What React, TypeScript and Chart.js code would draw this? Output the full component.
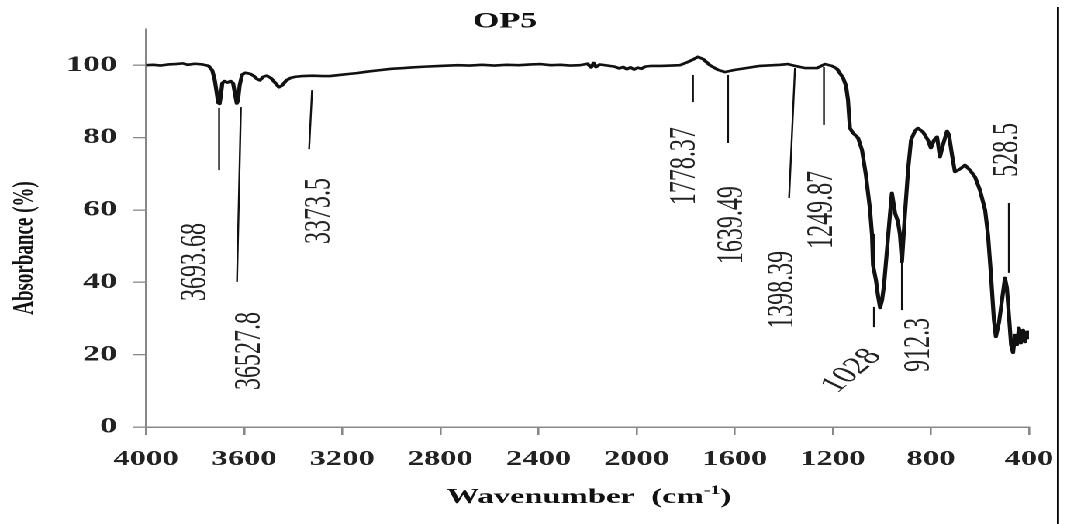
import React, { useEffect, useRef } from 'react';
import { Chart, registerables } from 'chart.js';

Chart.register(...registerables);

// ---------- data ----------
const wavenumbers: number[] = [
  4000, 3970, 3940, 3910, 3880, 3850, 3830, 3800, 3770, 3745, 3730, 3720, 3712, 3706, 3700, 3695, 3689, 3680, 3668, 3655,
  3645, 3637, 3630, 3625, 3618, 3608, 3595, 3575, 3560, 3548, 3536, 3522, 3508, 3490, 3472, 3458, 3445, 3428, 3410, 3390,
  3363, 3320, 3280, 3250, 3210, 3170, 3140, 3100, 3050, 3000, 2950, 2910, 2860, 2800, 2730, 2680, 2630, 2580, 2530, 2480,
  2430, 2390, 2350, 2310, 2270, 2230, 2200, 2185, 2175, 2165, 2150, 2120, 2090, 2070, 2055, 2040, 2025, 2010, 1995, 1980,
  1965, 1940, 1900, 1860, 1823, 1790, 1766, 1750, 1729, 1701, 1668, 1639, 1599, 1497, 1415, 1383, 1354, 1313, 1264, 1232,
  1203, 1183, 1158, 1146, 1138, 1130, 1118, 1097, 1081, 1065, 1048, 1040, 1036, 1024, 1016, 1007, 999, 991, 979, 967,
  959, 946, 934, 926, 918, 906, 893, 881, 865, 853, 832, 812, 800, 787, 775, 763, 751, 734, 726, 714,
  702, 681, 661, 641, 620, 600, 579, 567, 555, 543, 535, 522, 510, 498, 490, 482, 473, 465, 457, 449,
  441, 433, 424, 416, 408, 404,
];
const absorbance: number[] = [
  100.0, 100.1, 99.9, 100.2, 100.3, 100.5, 100.1, 100.4, 100.2, 99.8, 98.6, 96.0, 92.5, 89.6, 89.3, 91.5, 95.0, 95.6, 95.2, 95.6,
  95.0, 92.0, 89.4, 90.2, 94.5, 97.4, 97.9, 97.6, 97.0, 96.2, 95.8, 96.8, 97.1, 96.4, 95.0, 93.9, 94.4, 95.8, 96.5, 96.8,
  97.0, 97.1, 97.0, 97.0, 97.3, 97.6, 97.8, 98.2, 98.6, 99.0, 99.2, 99.4, 99.6, 99.8, 100.0, 99.9, 100.1, 99.9, 100.1, 100.0,
  100.2, 100.3, 100.0, 100.1, 99.9, 100.0, 100.4, 99.4, 100.6, 99.5, 100.2, 99.9, 99.6, 99.1, 99.5, 98.9, 99.4, 98.8, 99.3, 99.0,
  99.6, 99.8, 99.8, 99.9, 100.0, 100.9, 101.7, 102.3, 101.7, 100.0, 98.7, 98.1, 98.7, 99.8, 100.1, 100.3, 99.8, 99.2, 99.2, 100.3,
  99.8, 99.0, 96.5, 94.3, 90.4, 82.6, 81.3, 79.9, 76.6, 69.7, 60.0, 53.1, 44.8, 40.6, 36.5, 32.9, 35.1, 39.2, 48.9, 58.6,
  64.7, 59.1, 56.7, 53.1, 45.6, 58.6, 71.0, 79.3, 81.8, 82.6, 81.5, 79.3, 77.1, 79.3, 80.2, 74.6, 77.9, 81.8, 80.7, 75.2,
  70.5, 71.3, 72.4, 71.0, 69.1, 65.5, 60.0, 53.1, 42.0, 29.6, 24.9, 29.0, 35.1, 41.2, 38.4, 31.0, 22.7, 20.5, 25.4, 22.7,
  27.4, 23.2, 26.8, 23.5, 26.3, 24.6,
];
const xTickValues: number[] = [4000, 3600, 3200, 2800, 2400, 2000, 1600, 1200, 800, 400];
const yTickValues: number[] = [0, 20, 40, 60, 80, 100];

const peakLabels: string[] = ['3693.68', '36527.8', '3373.5', '1778.37', '1639.49', '1398.39', '1249.87', '1028', '912.3', '528.5'];
// leader lines in data units: [x1, y1] -> [x2, y2]
const peakLineX1: number[] = [3702, 3613, 3323, 1770, 1627, 1354, 1236, 1032, 918, 482];
const peakLineY1: number[] = [88.2, 88.4, 93.1, 97.3, 97.3, 99.2, 99.5, 33.2, 46.2, 61.9];
const peakLineX2: number[] = [3702, 3629, 3335, 1770, 1627, 1378, 1236, 1032, 918, 482];
const peakLineY2: number[] = [71.0, 40.1, 76.8, 89.8, 78.5, 63.3, 83.5, 27.6, 32.3, 42.6];
// label centres in data units and text angle (degrees)
const peakLabelX: number[] = [3796, 3576, 3291, 1802, 1611, 1403, 1244, 1122, 849, 486];
const peakLabelY: number[] = [45.6, 21.0, 59.7, 72.1, 55.8, 37.9, 60.0, 15.5, 22.7, 76.6];
const peakLabelAngle: number[] = [-90, -90, -90, -90, -90, -90, -90, -52, -90, -90];

// ---------- layout ----------
const STRETCH = 1067 / 688; // the reference picture is stretched horizontally
const CW = 688;
const CH = 524;
const SERIF = "'Liberation Serif', 'Times New Roman', serif";

const overlayPlugin = {
  id: 'overlay',
  afterDraw(chart: any) {
    const ctx = chart.ctx as CanvasRenderingContext2D;
    const xs = chart.scales.x;
    const ys = chart.scales.y;
    ctx.save();

    // leader lines
    ctx.strokeStyle = '#111';
    ctx.lineWidth = 1.2;
    for (let i = 0; i < peakLabels.length; i++) {
      ctx.beginPath();
      ctx.moveTo(xs.getPixelForValue(peakLineX1[i]), ys.getPixelForValue(peakLineY1[i]));
      ctx.lineTo(xs.getPixelForValue(peakLineX2[i]), ys.getPixelForValue(peakLineY2[i]));
      ctx.stroke();
    }
    // peak labels
    ctx.fillStyle = '#222';
    ctx.font = '24px ' + SERIF;
    ctx.textAlign = 'center';
    ctx.textBaseline = 'middle';
    for (let i = 0; i < peakLabels.length; i++) {
      ctx.save();
      ctx.translate(xs.getPixelForValue(peakLabelX[i]), ys.getPixelForValue(peakLabelY[i]));
      ctx.rotate((peakLabelAngle[i] * Math.PI) / 180);
      ctx.fillText(peakLabels[i], 0, 0);
      ctx.restore();
    }

    // title
    ctx.fillStyle = '#111';
    ctx.font = 'bold 22px ' + SERIF;
    ctx.fillText('OP5', 505 / STRETCH, 22);

    // y axis title
    ctx.save();
    ctx.translate(25 / STRETCH, 248);
    ctx.rotate(-Math.PI / 2);
    ctx.font = 'bold 19px ' + SERIF;
    ctx.fillText('Absorbance (%)', 0, 0);
    ctx.restore();

    // x axis title with superscript
    const a = 'Wavenumber  (cm';
    const sup = '-1';
    const b = ')';
    ctx.textAlign = 'left';
    ctx.textBaseline = 'alphabetic';
    ctx.font = 'bold 21px ' + SERIF;
    const wA = ctx.measureText(a).width;
    const wB = ctx.measureText(b).width;
    ctx.font = 'bold 13px ' + SERIF;
    const wS = ctx.measureText(sup).width;
    const total = wA + wS + wB;
    const cx = 589 / STRETCH;
    const base = 503;
    const sx = cx - total / 2;
    ctx.font = 'bold 21px ' + SERIF;
    ctx.fillText(a, sx, base);
    ctx.font = 'bold 13px ' + SERIF;
    ctx.fillText(sup, sx + wA, base - 9);
    ctx.font = 'bold 21px ' + SERIF;
    ctx.fillText(b, sx + wA + wS, base);

    // right frame line of the figure
    ctx.strokeStyle = '#000';
    ctx.lineWidth = 1.4;
    ctx.beginPath();
    ctx.moveTo(1058 / STRETCH, 7);
    ctx.lineTo(1058 / STRETCH, CH);
    ctx.stroke();

    ctx.restore();
  },
};

export default function App() {
  const canvasRef = useRef<HTMLCanvasElement | null>(null);

  useEffect(() => {
    const canvas = canvasRef.current;
    if (!canvas) return;
    const points = wavenumbers.map((w, i) => ({ x: w, y: absorbance[i] }));
    const left = 146 / STRETCH;
    const right = 1029 / STRETCH;
    const chart = new Chart(canvas, {
      type: 'scatter',
      data: {
        datasets: [
          {
            data: points,
            showLine: true,
            borderColor: '#111',
            borderWidth: 2.6,
            borderJoinStyle: 'round',
            pointRadius: 0,
            tension: 0,
            fill: false,
          },
        ],
      },
      options: {
        animation: false,
        responsive: false,
        devicePixelRatio: 2,
        layout: { padding: { left: 0, right: CW - right, top: 29, bottom: 0 } },
        plugins: { legend: { display: false }, tooltip: { enabled: false }, title: { display: false } },
        scales: {
          x: {
            type: 'linear',
            reverse: true,
            min: 400,
            max: 4000,
            afterBuildTicks: (scale: any) => {
              scale.ticks = xTickValues.map((v) => ({ value: v }));
            },
            afterFit: (scale: any) => {
              scale.height = CH - 427;
              scale.paddingLeft = 0;
              scale.paddingRight = 0;
            },
            ticks: {
              stepSize: 400,
              maxRotation: 0,
              autoSkip: false,
              padding: 12,
              color: '#222',
              font: { family: SERIF, size: 21, weight: 'bold' },
              callback: (v: any) => String(v),
            },
            grid: { drawOnChartArea: false, drawTicks: true, tickLength: 8, color: '#888', lineWidth: 1.3 },
            border: { display: true, color: '#888', width: 1.5 },
          },
          y: {
            type: 'linear',
            min: 0,
            max: 110,
            afterBuildTicks: (scale: any) => {
              scale.ticks = yTickValues.map((v) => ({ value: v }));
            },
            afterFit: (scale: any) => {
              scale.width = left;
              scale.paddingTop = 0;
              scale.paddingBottom = 0;
            },
            ticks: {
              stepSize: 20,
              includeBounds: false,
              padding: 10.4,
              color: '#222',
              font: { family: SERIF, size: 22, weight: 'bold' },
              callback: (v: any) => String(v),
            },
            grid: { drawOnChartArea: false, drawTicks: true, tickLength: 8.3, color: '#888', lineWidth: 1.3 },
            border: { display: true, color: '#888', width: 1.4 },
          },
        },
      },
      plugins: [overlayPlugin],
    } as any);
    return () => chart.destroy();
  }, []);

  return (
    <div
      style={{
        position: 'absolute',
        left: 0,
        top: 0,
        width: CW + 'px',
        height: CH + 'px',
        transform: `scaleX(${STRETCH})`,
        transformOrigin: '0 0',
        background: '#fff',
      }}
    >
      <canvas ref={canvasRef} width={CW} height={CH} style={{ width: CW + 'px', height: CH + 'px', display: 'block' }} />
    </div>
  );
}
